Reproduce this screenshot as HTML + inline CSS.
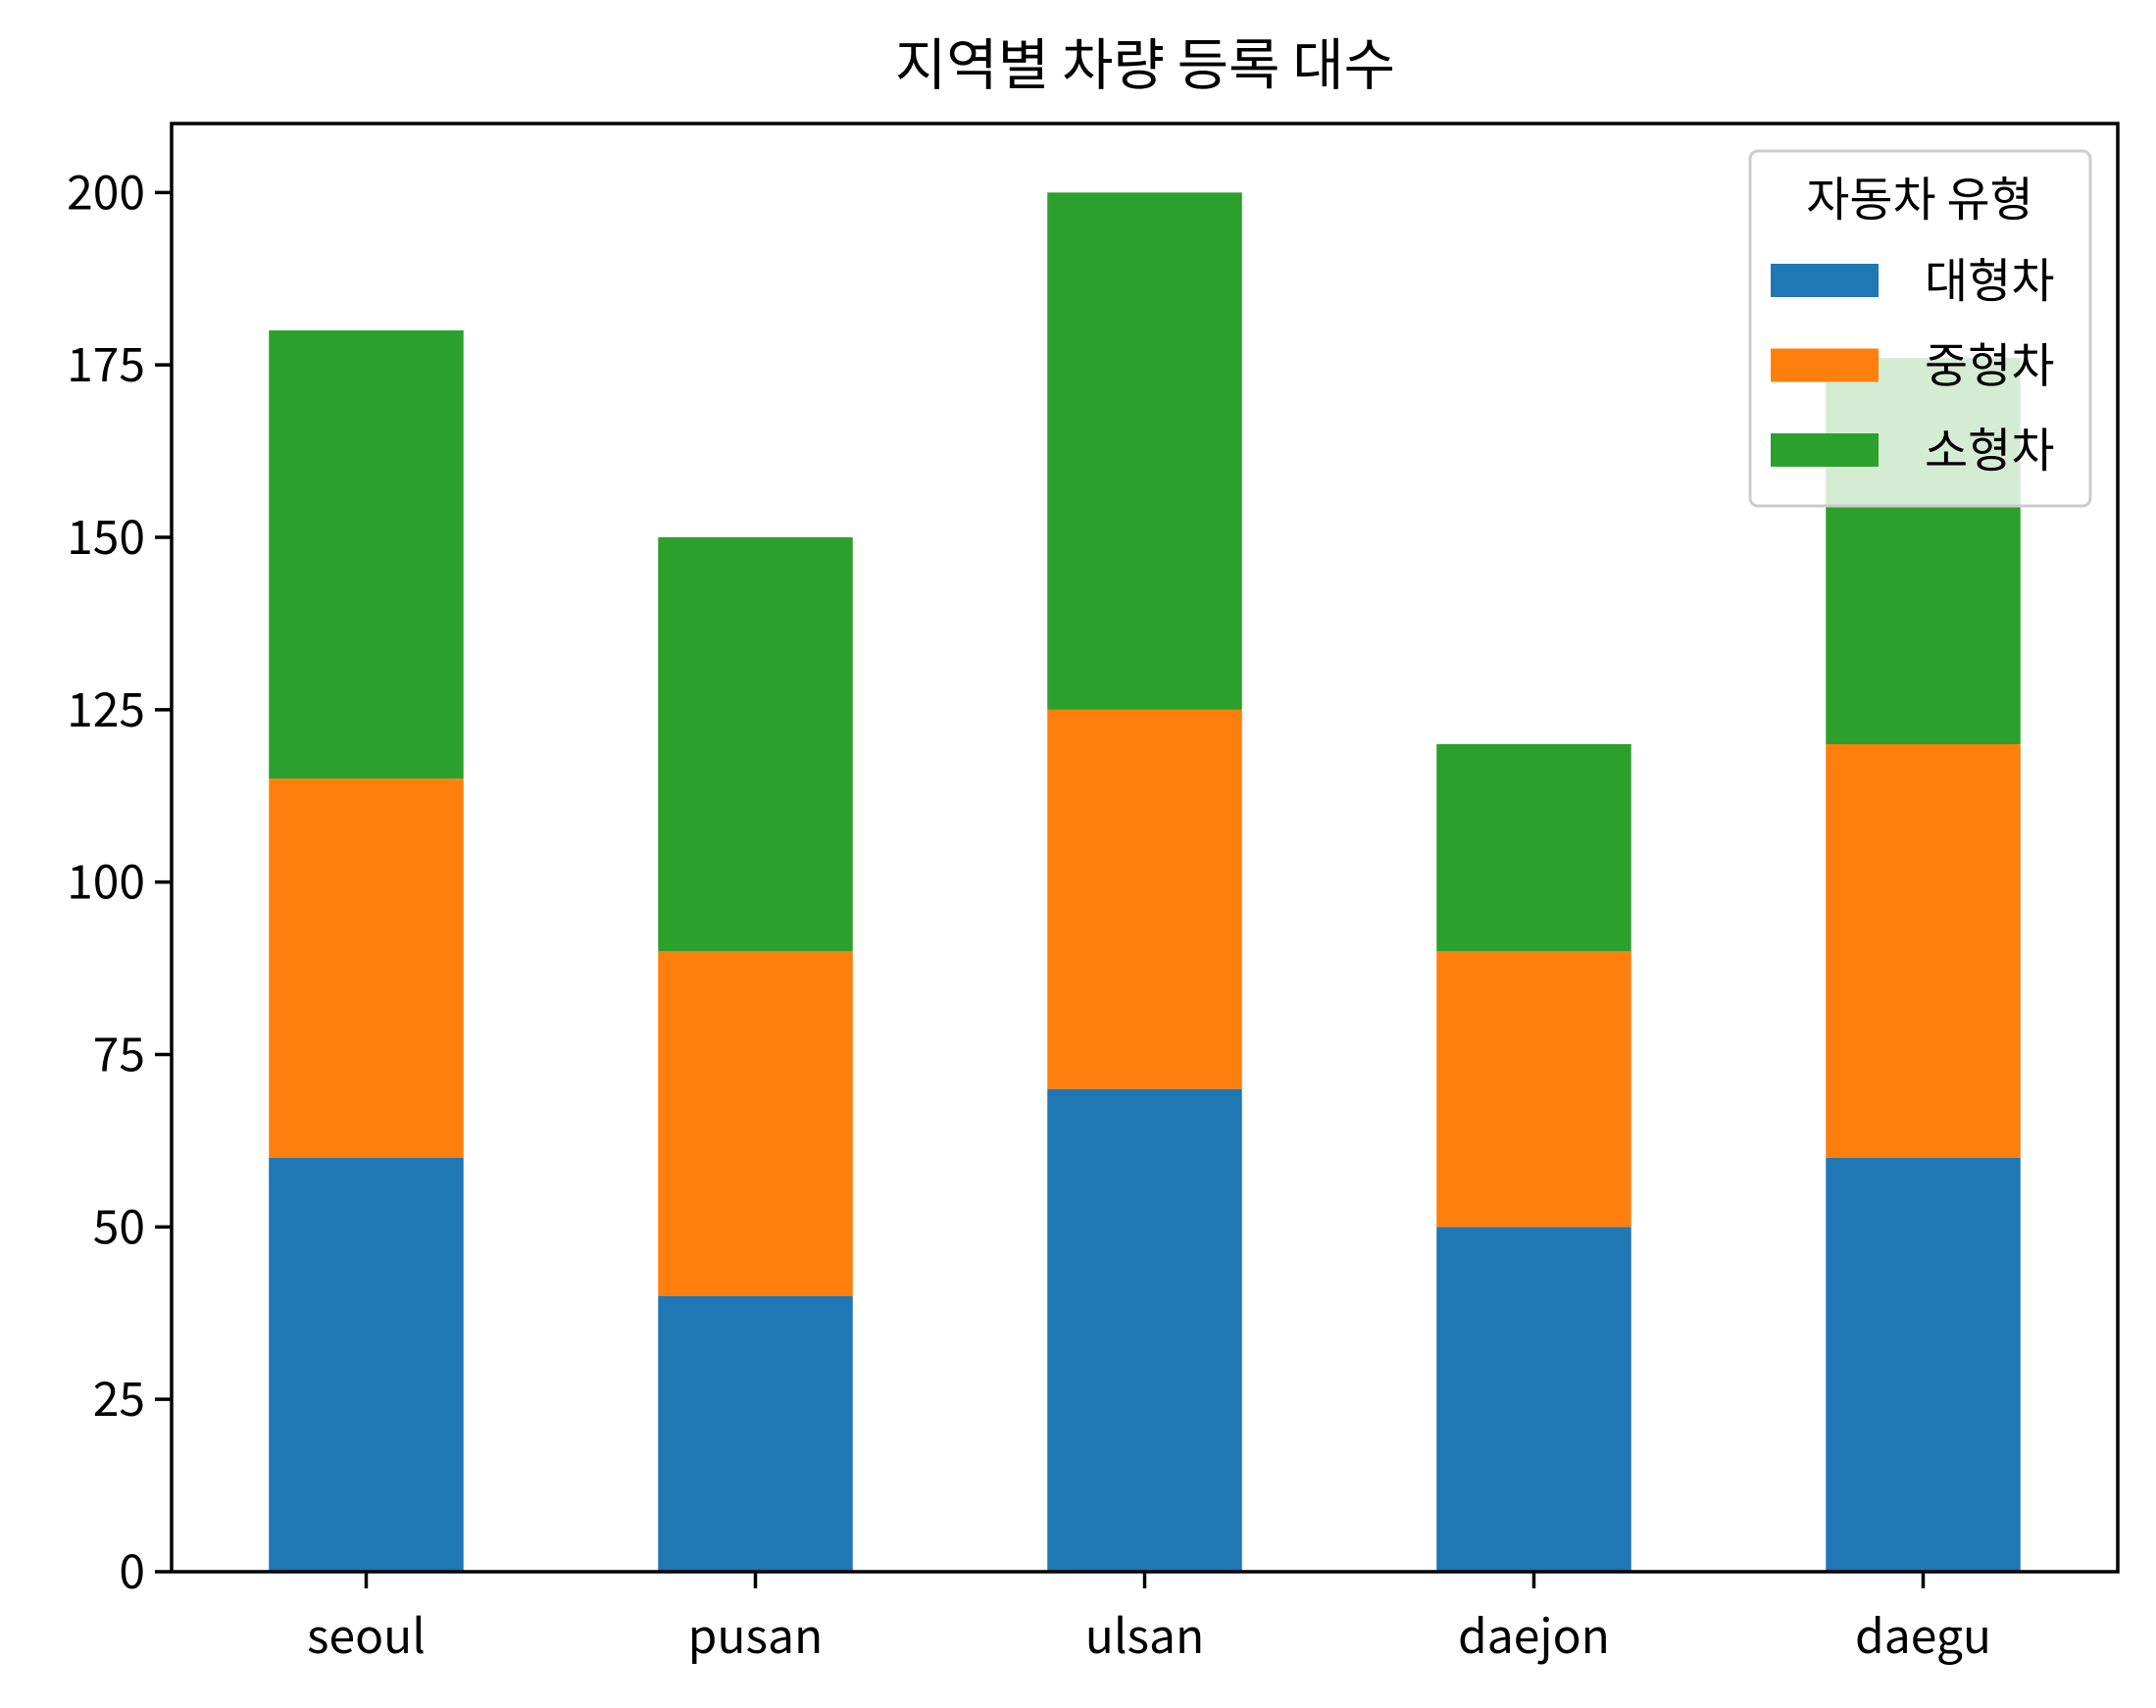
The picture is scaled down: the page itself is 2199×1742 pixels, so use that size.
<!DOCTYPE html>
<html><head><meta charset="utf-8"><style>
html,body{margin:0;padding:0;background:#fff}
svg{display:block;font-family:"Noto Sans CJK KR","Liberation Sans",sans-serif}
</style></head><body>
<svg id="chart" width="2199" height="1742" viewBox="0 0 2199 1742">
<rect width="2199" height="1742" fill="#fff"/>
<text x="1168" y="86" font-size="57" text-anchor="middle">지역별 차량 등록 대수</text>
<g id="bars"></g>
<g id="yticks"></g>
<g id="xticks"></g>
<rect x="175" y="126" width="1985" height="1477" fill="none" stroke="#000" stroke-width="3.5"/>
<g id="legend">
<rect x="1785" y="154" width="347" height="362" rx="8" fill="#fff" fill-opacity="0.8" stroke="#ccc" stroke-width="3"/>
<text x="1958" y="220" font-size="48" text-anchor="middle">자동차 유형</text>
</g>
</svg>
<script>
const categories = ["seoul","pusan","ulsan","daejon","daegu"];
const seriesNames = ["대형차","중형차","소형차"];
const largeCars = [60,40,70,50,60];
const midCars = [55,50,55,40,60];
const smallCars = [65,60,75,30,56];
const yTicks = [0,25,50,75,100,125,150,175,200];
const colors = ["#1f77b4","#ff7f0e","#2ca02c"];
const NS="http://www.w3.org/2000/svg";
const L=175,R=2160,T=126,B=1603;
const xs=i=>L+(i+0.5)/categories.length*(R-L);
const ys=v=>B-(v/210)*(B-T);
const bw=0.5*(R-L)/categories.length;
function mk(tag,attrs,parent){const e=document.createElementNS(NS,tag);for(const k in attrs)e.setAttribute(k,attrs[k]);parent.appendChild(e);return e;}
const bars=document.getElementById('bars');
const series=[largeCars,midCars,smallCars];
categories.forEach((c,i)=>{let base=0;series.forEach((s,j)=>{
 const r=mk('rect',{x:xs(i)-bw/2,y:ys(base+s[i]),width:bw,height:ys(base)-ys(base+s[i]),fill:colors[j]},bars);
 
 
 base+=s[i];});});
const yt=document.getElementById('yticks');
yTicks.forEach(v=>{const y=ys(v);
 mk('line',{x1:L-17,x2:L,y1:y,y2:y,stroke:'#000','stroke-width':3.5},yt);
 const t=mk('text',{x:L-27,y:y+17,'font-size':48,'text-anchor':'end'},yt);t.textContent=v;
 
 });
const xt=document.getElementById('xticks');
categories.forEach((c,i)=>{const x=xs(i);
 mk('line',{x1:x,x2:x,y1:B,y2:B+17,stroke:'#000','stroke-width':3.5},xt);
 const t=mk('text',{x:x,y:1686,'font-size':48,'text-anchor':'middle'},xt);t.textContent=c;
 
 });
const lg=document.getElementById('legend');
seriesNames.forEach((n,j)=>{const cy=286+j*86.5;
 const r=mk('rect',{x:1806,y:cy-17,width:110,height:34,fill:colors[j]},lg);
 
 
 const t=mk('text',{x:1963,y:cy+17,'font-size':48},lg);t.textContent=n;
 
 });
</script>
</body></html>
